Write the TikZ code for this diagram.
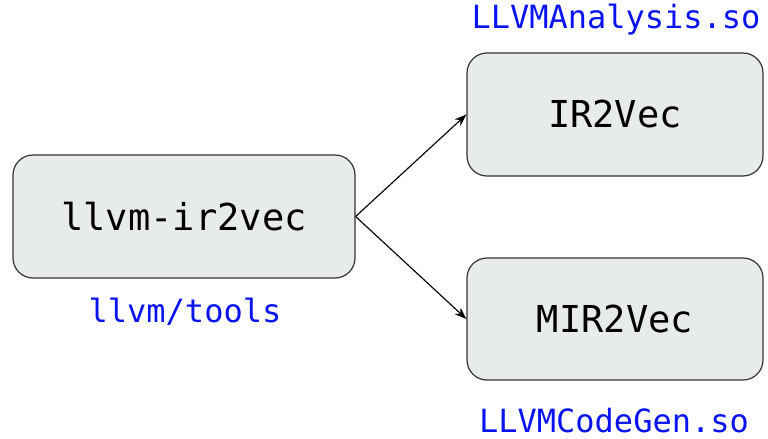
\documentclass[tikz,border=0pt]{standalone}
\usepackage{fontspec}
\setmonofont{DejaVu Sans Mono}
\usetikzlibrary{arrows.meta}
\definecolor{boxfill}{HTML}{E8EBEC}
\definecolor{boxline}{HTML}{333333}
\definecolor{labblue}{HTML}{0A14F0}
\begin{document}
\begin{tikzpicture}[x=0.75pt,y=-0.75pt,
  mbox/.style={draw=boxline,line width=0.9pt,fill=boxfill,rounded corners=15pt,
    inner sep=0pt,font=\ttfamily\fontsize{27.8pt}{31pt}\selectfont},
  blab/.style={text=labblue,inner sep=0pt,font=\ttfamily\fontsize{24pt}{28pt}\selectfont},
  conn/.style={draw=black,line width=0.85pt,-{Stealth[length=9pt,width=6.5pt]}}]
\useasboundingbox (0,0) rectangle (768,439);
\node[mbox,minimum width=342*0.75pt,minimum height=123*0.75pt] (tool) at (184,216.5) {llvm-ir2vec};
\node[mbox,minimum width=296*0.75pt,minimum height=123*0.75pt] (ir) at (615,114.5) {IR2Vec};
\node[mbox,minimum width=296*0.75pt,minimum height=122*0.75pt] (mir) at (615,319) {MIR2Vec};
\node[blab] (la) at (616,20) {LLVMAnalysis.so};
\node[blab] (lt) at (185,312) {llvm/tools};
\node[blab] (lc) at (614,421) {LLVMCodeGen.so};
\draw[conn] (tool.east) -- (ir.west);
\draw[conn] (tool.east) -- (mir.west);
\end{tikzpicture}
\end{document}
